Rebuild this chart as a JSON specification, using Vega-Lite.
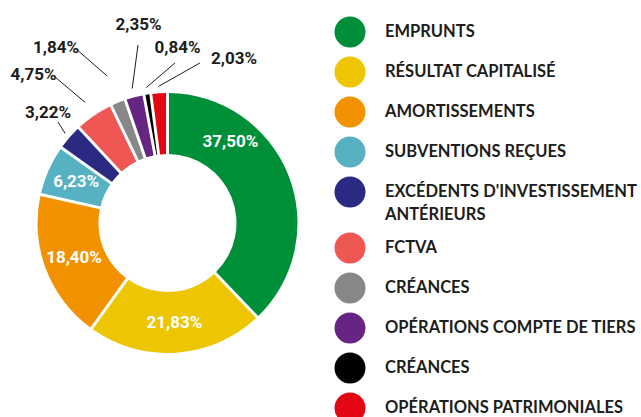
{
  "$schema": "https://vega.github.io/schema/vega-lite/v6.json",
  "width": 335,
  "height": 388,
  "autosize": {"type": "none"},
  "padding": {"left": 0, "top": 29, "right": 306, "bottom": 0},
  "background": "white",
  "config": {"view": {"stroke": null}},
  "data": {
    "values": [
      {"cat": "EMPRUNTS", "value": 37.5},
      {"cat": "RÉSULTAT CAPITALISÉ", "value": 21.83},
      {"cat": "AMORTISSEMENTS", "value": 18.4},
      {"cat": "SUBVENTIONS REÇUES", "value": 6.23},
      {"cat": "EXCÉDENTS D'INVESTISSEMENT|ANTÉRIEURS", "value": 3.22},
      {"cat": "FCTVA", "value": 4.75},
      {"cat": "CRÉANCES", "value": 1.84},
      {"cat": "OPÉRATIONS COMPTE DE TIERS", "value": 2.35},
      {"cat": "CRÉANCES ", "value": 0.84},
      {"cat": "OPÉRATIONS PATRIMONIALES", "value": 2.03}
    ]
  },
  "transform": [
    {"window": [{"op": "row_number", "as": "i"}]},
    {"joinaggregate": [{"op": "sum", "field": "value", "as": "total"}]},
    {"window": [{"op": "sum", "field": "value", "as": "cum"}], "sort": [{"field": "i"}], "frame": [null, 0]},
    {"calculate": "datum.cum - datum.value / 2", "as": "midv"},
    {"calculate": "datum.midv / datum.total * 2 * PI", "as": "a"},
    {"calculate": "replace(format(datum.value, '.2f'), '.', ',') + '%'", "as": "lbl"}
  ],
  "layer": [
    {
      "mark": {"type": "arc", "outerRadius": 130, "innerRadius": 69, "padAngle": 0.02},
      "encoding": {
        "theta": {"field": "value", "type": "quantitative", "stack": true},
        "order": {"field": "i", "type": "quantitative"},
        "color": {
          "field": "cat",
          "type": "nominal",
          "scale": {
            "domain": ["EMPRUNTS", "RÉSULTAT CAPITALISÉ", "AMORTISSEMENTS", "SUBVENTIONS REÇUES", "EXCÉDENTS D'INVESTISSEMENT|ANTÉRIEURS", "FCTVA", "CRÉANCES", "OPÉRATIONS COMPTE DE TIERS", "CRÉANCES ", "OPÉRATIONS PATRIMONIALES"],
            "range": ["#008F39", "#EDC500", "#F39200", "#56B2C3", "#2A2A82", "#EE5753", "#878787", "#662483", "#000000", "#E30613"]
          },
          "legend": {
            "orient": "none",
            "legendX": 334.5,
            "legendY": -12.5,
            "title": null,
            "padding": 0,
            "symbolType": "circle",
            "symbolSize": 961,
            "symbolStrokeWidth": 0,
            "symbolOpacity": 1,
            "labelFont": "Lato",
            "labelFontWeight": "bold",
            "labelFontSize": 16.5,
            "labelColor": "#1d1d1b",
            "labelOffset": 19.5,
            "labelLimit": 400,
            "rowPadding": 9,
            "labelExpr": "split(datum.label, '|')",
            "encode": {"labels": {"update": {"lineHeight": {"value": 23}}}}
          }
        }
      }
    },
    {
      "transform": [{"filter": "datum.value >= 5 && datum.i > 1"}],
      "mark": {"type": "text", "radius": 100, "font": "Roboto", "fontWeight": "bold", "fontSize": 17, "fill": "white", "align": "center", "baseline": "middle"},
      "encoding": {
        "theta": {"field": "midv", "type": "quantitative", "stack": null},
        "text": {"field": "lbl", "type": "nominal"}
      }
    },
    {
      "transform": [{"filter": "datum.i == 1"}],
      "mark": {"type": "text", "radius": 100, "dx": -30, "dy": -44, "font": "Roboto", "fontWeight": "bold", "fontSize": 17, "fill": "white", "align": "center", "baseline": "middle"},
      "encoding": {
        "theta": {"field": "midv", "type": "quantitative", "stack": null},
        "text": {"field": "lbl", "type": "nominal"}
      }
    },
    {
      "transform": [
        {"filter": "datum.value < 5"},
        {"calculate": "datum.i - 5", "as": "k"},
        {"calculate": "[136, 146, 159, 139, 137, 137][datum.k]", "as": "rs"},
        {"calculate": "datum.rs * sin(datum.a)", "as": "sx"},
        {"calculate": "datum.rs * cos(datum.a)", "as": "sy"},
        {"calculate": "datum.sx + [-7.2, -30.2, -32.1, 5.8, 28.7, 41.3][datum.k]", "as": "ex"},
        {"calculate": "datum.sy + [11.4, 25.4, 27.9, 43.6, 24.7, 23.3][datum.k]", "as": "ey"}
      ],
      "mark": {"type": "rule", "color": "#1d1d1b", "strokeWidth": 1},
      "encoding": {
        "x": {"field": "sx", "type": "quantitative", "scale": {"domain": [-167.5, 167.5], "nice": false, "zero": false}, "axis": null},
        "y": {"field": "sy", "type": "quantitative", "scale": {"domain": [-194, 194], "nice": false, "zero": false}, "axis": null},
        "x2": {"field": "ex"},
        "y2": {"field": "ey"}
      }
    },
    {
      "transform": [
        {"filter": "datum.value < 5"},
        {"calculate": "datum.i - 5", "as": "k"},
        {"calculate": "[136, 146, 159, 139, 137, 137][datum.k]", "as": "rs"},
        {"calculate": "datum.rs * sin(datum.a) + [-7.2, -30.2, -32.1, 5.8, 28.7, 41.3][datum.k] + [-10, -21.5, -19, 0.5, 2.5, 34][datum.k]", "as": "lx"},
        {"calculate": "datum.rs * cos(datum.a) + [11.4, 25.4, 27.9, 43.6, 24.7, 23.3][datum.k] + [9.5, 2, 0, 20, 15, 4][datum.k]", "as": "ly"}
      ],
      "mark": {"type": "text", "font": "Roboto", "fontWeight": "bold", "fontSize": 17, "fill": "#1d1d1b", "align": "center", "baseline": "middle"},
      "encoding": {
        "x": {"field": "lx", "type": "quantitative", "scale": {"domain": [-167.5, 167.5], "nice": false, "zero": false}, "axis": null},
        "y": {"field": "ly", "type": "quantitative", "scale": {"domain": [-194, 194], "nice": false, "zero": false}, "axis": null},
        "text": {"field": "lbl", "type": "nominal"}
      }
    }
  ]
}
